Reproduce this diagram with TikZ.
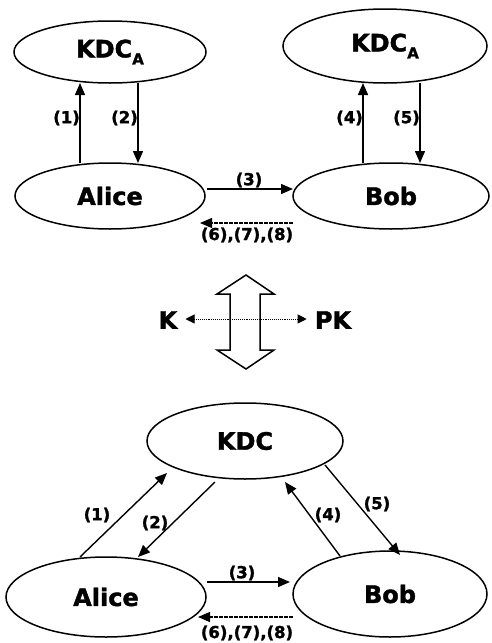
\documentclass[tikz,border=0pt]{standalone}
\usepackage{fontspec}
\setmainfont{DejaVu Sans}[BoldFeatures={FakeBold=1.6}]
\usetikzlibrary{arrows.meta,calc,shapes.geometric}
\begin{document}
\begin{tikzpicture}[x=1pt,y=-1pt,
  ent/.style={draw,ellipse,line width=1.5pt,inner sep=0pt,font=\fontsize{24}{26}\selectfont\bfseries},
  arr/.style={line width=1.4pt,-{Triangle[length=12pt,width=10pt]}},
  ret/.style={line width=1.1pt,dash pattern=on 4pt off 1pt,-{Triangle[length=12pt,width=10pt]}},
  lab/.style={font=\fontsize{16.5}{18}\selectfont\bfseries,inner sep=1pt},
  big/.style={font=\fontsize{24}{26}\selectfont\bfseries,inner sep=0pt}]
\useasboundingbox (0,0) rectangle (492,643);
\newcommand{\kdcA}{KDC\raisebox{-7pt}{\fontsize{15}{16}\selectfont A}}
% top part
\node[ent,minimum width=192pt,minimum height=62pt] (kL) at (110,52) {\kdcA};
\node[ent,minimum width=204pt,minimum height=74pt] (kR) at (385,46) {\kdcA};
\node[ent,minimum width=190pt,minimum height=66pt] (aT) at (110,196) {Alice};
\node[ent,minimum width=196pt,minimum height=66pt] (bT) at (391,196) {Bob};
\draw[arr] ($(aT.center)+(-30,-33)$) -- ($(kL.center)+(-30,31)$);
\draw[arr] ($(kL.center)+(28,31)$) -- ($(aT.center)+(28,-33)$);
\draw[arr] ($(bT.center)+(-28,-33)$) -- ($(kR.center)+(-22,37)$);
\draw[arr] ($(kR.center)+(35,37)$) -- ($(bT.center)+(29,-33)$);
\draw[arr] ($(aT.center)+(97,-7)$) -- ($(bT.center)+(-98,-7)$);
\draw[ret] ($(bT.center)+(-98,27)$) -- ($(aT.center)+(90,27)$);
\node[lab,anchor=east] (l1) at (81,118) {(1)};
\node[lab,anchor=east] (l2) at (139,118) {(2)};
\node[lab,anchor=east] (l4) at (364,118) {(4)};
\node[lab,anchor=east] (l5) at (421,118) {(5)};
\node[lab] (l3) at (249,180) {(3)};
\node[lab] (l6) at (247,235) {(6),(7),(8)};
% middle
\draw[line width=1.5pt,line join=miter,fill=white]
  (246,275) -- (274,294) -- (260,294) -- (260,350) -- (274,350) -- (246,369)
  -- (217,350) -- (230,350) -- (230,294) -- (217,294) -- cycle;
\node[big] (K) at (168,320) {K};
\node[big] (PK) at (333,320) {PK};
\draw[line width=0.9pt,densely dotted,{Triangle[length=9pt,width=9pt]}-{Triangle[length=9pt,width=9pt]}]
  (K.east) ++(8,-1) coordinate (kd) (PK.west) ++(-8,-1) coordinate (pd) (kd) -- (pd);
% bottom part
\node[ent,minimum width=196pt,minimum height=76pt] (kB) at (245,441) {KDC};
\node[ent,minimum width=200pt,minimum height=80pt] (aB) at (106,597) {Alice};
\node[ent,minimum width=194pt,minimum height=86pt] (bB) at (390,594) {Bob};
\draw[arr] ($(aB.center)+(-26,-40)$) -- ($(kB.center)+(-78,32)$);
\draw[arr] ($(kB.center)+(-30,41)$) -- ($(aB.center)+(32,-40)$);
\draw[arr] ($(bB.center)+(-50,-38)$) -- ($(kB.center)+(40,41)$);
\draw[arr] ($(kB.center)+(80,24)$) -- ($(bB.center)+(10,-39)$);
\draw[arr] ($(aB.center)+(101,-15)$) -- ($(bB.center)+(-100,-12)$);
\draw[ret] ($(bB.center)+(-97,23)$) -- ($(aB.center)+(92,20)$);
\node[lab] (m1) at (97,515) {(1)};
\node[lab] (m2) at (155,523) {(2)};
\node[lab] (m4) at (328,515) {(4)};
\node[lab] (m5) at (377,504) {(5)};
\node[lab] (m3) at (242,573) {(3)};
\node[lab] (m6) at (247,633) {(6),(7),(8)};
\end{tikzpicture}
\end{document}
